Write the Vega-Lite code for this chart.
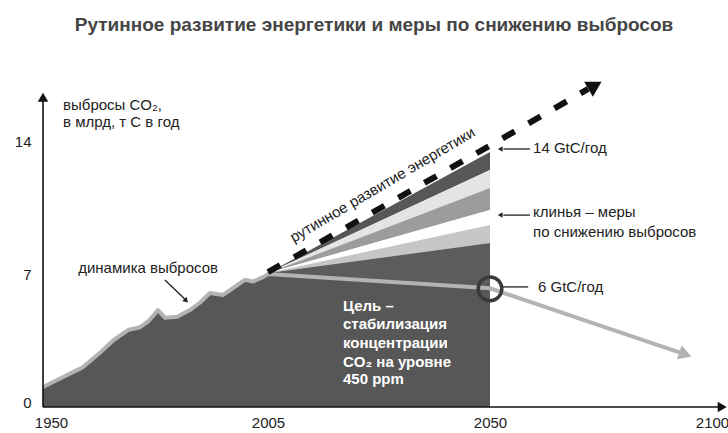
{
  "$schema": "https://vega.github.io/schema/vega-lite/v6.json",
  "width": 686,
  "height": 342,
  "autosize": {"type": "none"},
  "padding": {"left": 42, "top": 65, "right": 0, "bottom": 26},
  "background": "white",
  "title": {
    "text": "Рутинное развитие энергетики и меры по снижению выбросов",
    "font": "Liberation Sans",
    "fontSize": 19,
    "fontWeight": "bold",
    "color": "#454545",
    "anchor": "middle",
    "offset": 30,
    "dx": -11
  },
  "config": {
    "view": {"stroke": null},
    "axis": {
      "grid": false,
      "ticks": false,
      "domain": false,
      "labelFont": "Liberation Sans",
      "labelFontSize": 15,
      "labelColor": "#222222",
      "labelFlush": false,
      "title": null
    }
  },
  "datasets": {
    "path": [
      {"year": 1950, "value": 1.05},
      {"year": 1954.2, "value": 1.5},
      {"year": 1959.8, "value": 2.1},
      {"year": 1963.9, "value": 2.85},
      {"year": 1967.1, "value": 3.5},
      {"year": 1970.8, "value": 4.05},
      {"year": 1973.7, "value": 4.2},
      {"year": 1975.7, "value": 4.5},
      {"year": 1978.1, "value": 5.1},
      {"year": 1979.8, "value": 4.7},
      {"year": 1982.8, "value": 4.75},
      {"year": 1985.9, "value": 5.1},
      {"year": 1988.4, "value": 5.5},
      {"year": 1990.8, "value": 6.0},
      {"year": 1994, "value": 5.9},
      {"year": 1996.4, "value": 6.25},
      {"year": 1999.4, "value": 6.7},
      {"year": 2001.3, "value": 6.6},
      {"year": 2003.9, "value": 6.85},
      {"year": 2005, "value": 7.0},
      {"year": 2050, "value": 6.25},
      {"year": 2092.8, "value": 2.86}
    ],
    "wedges": [
      {"w": "a", "year": 2005, "value": 7.05, "lo": 7.05},
      {"w": "a", "year": 2050, "value": 13.42, "lo": 12.47},
      {"w": "b", "year": 2005, "value": 7.05, "lo": 7.05},
      {"w": "b", "year": 2050, "value": 12.47, "lo": 11.53},
      {"w": "c", "year": 2005, "value": 7.05, "lo": 7.05},
      {"w": "c", "year": 2050, "value": 11.53, "lo": 10.37},
      {"w": "d", "year": 2005, "value": 7.05, "lo": 7.05},
      {"w": "d", "year": 2050, "value": 10.37, "lo": 9.58},
      {"w": "e", "year": 2005, "value": 7.05, "lo": 7.05},
      {"w": "e", "year": 2050, "value": 9.58, "lo": 8.63},
      {"w": "f", "year": 2005, "value": 7.05, "lo": 7.0},
      {"w": "f", "year": 2050, "value": 8.63, "lo": 6.25}
    ],
    "bau": [
      {"year": 2005, "value": 7.1},
      {"year": 2050, "value": 13.76},
      {"year": 2072.1, "value": 16.74}
    ],
    "bauHead": [{"year": 2073.65, "value": 16.92}],
    "grayHead": [{"year": 2094.0, "value": 2.77}],
    "target": [{"year": 2050, "value": 6.22}],
    "pointers": [
      {"year": 2059.0, "year2": 2053.0, "value": 13.58, "value2": 13.58},
      {"year": 2059.0, "year2": 2053.0, "value": 10.1, "value2": 10.1},
      {"year": 2058.6, "year2": 2052.7, "value": 6.32, "value2": 6.32},
      {"year": 1979.8, "year2": 1984.6, "value": 6.68, "value2": 5.7}
    ],
    "leftHeads": [
      {"year": 2052.3, "value": 13.58},
      {"year": 2052.3, "value": 10.1}
    ],
    "diagHead": [{"year": 1985.0, "value": 5.6}],
    "axes": [
      {"year": 1950, "year2": 2102, "value": 0, "value2": 0},
      {"year": 1950, "year2": 1950, "value": 0, "value2": 16.2}
    ],
    "xHead": [{"year": 2102.3, "value": 0}],
    "yHead": [{"year": 1950, "value": 16.3}],
    "notes": [
      {"text": "выбросы CO₂,", "year": 1954.9, "value": 15.63},
      {"text": "в млрд, т С в год", "year": 1954.9, "value": 14.74},
      {"text": "динамика выбросов", "year": 1958.6, "value": 7.03},
      {"text": "14 GtC/год", "year": 2059.7, "value": 13.37},
      {"text": "клинья – меры", "year": 2059.7, "value": 10.0},
      {"text": "по снижению выбросов", "year": 2059.7, "value": 8.95},
      {"text": "6 GtC/год", "year": 2060.8, "value": 6.05}
    ],
    "goal": [
      {"text": "Цель –", "year": 2020.2, "value": 5.05},
      {"text": "стабилизация", "year": 2020.2, "value": 4.1},
      {"text": "концентрации", "year": 2020.2, "value": 3.1},
      {"text": "CO₂ на уровне", "year": 2020.2, "value": 2.1},
      {"text": "450 ppm", "year": 2020.2, "value": 1.2}
    ],
    "bauLabel": [{"text": "рутинное развитие энергетики", "year": 2028.7, "value": 11.47}]
  },
  "encoding": {
    "x": {
      "field": "year",
      "type": "quantitative",
      "scale": {"domain": [1950, 2005, 2050, 2100], "range": [1, 226, 448, 670], "nice": false, "zero": false},
      "axis": {
        "values": [1950, 2005, 2050, 2100],
        "format": "d",
        "labelPadding": 8,
        "labelOffset": {"condition": {"test": "datum.value === 1950", "value": 8}, "value": 0}
      }
    },
    "y": {
      "field": "value",
      "type": "quantitative",
      "scale": {"domain": [0, 18], "nice": false, "zero": true},
      "axis": {
        "values": [0, 7, 14],
        "labelPadding": 11,
        "labelBaseline": {"condition": {"test": "datum.value === 0", "value": "alphabetic"}, "value": "middle"}
      }
    }
  },
  "layer": [
    {
      "data": {"name": "path"},
      "transform": [{"filter": "datum.year <= 2050"}],
      "mark": {"type": "area", "color": "#575757"},
      "encoding": {}
    },
    {
      "data": {"name": "wedges"},
      "mark": {"type": "area"},
      "encoding": {
        "y2": {"field": "lo"},
        "color": {
          "field": "w",
          "type": "nominal",
          "scale": {"domain": ["a", "b", "c", "d", "e", "f"], "range": ["#575757", "#e4e4e4", "#9c9c9c", "#ffffff", "#c6c6c6", "#5c5c5c"]},
          "legend": null
        }
      }
    },
    {
      "data": {"name": "path"},
      "mark": {"type": "line", "color": "#b3b3b3", "strokeWidth": 4, "strokeJoin": "round"},
      "encoding": {}
    },
    {
      "data": {"name": "grayHead"},
      "mark": {"type": "point", "shape": "triangle-up", "filled": true, "color": "#b3b3b3", "opacity": 1, "size": 220, "angle": 108.5},
      "encoding": {}
    },
    {
      "data": {"name": "bau"},
      "mark": {"type": "line", "color": "#111111", "strokeWidth": 6, "strokeDash": [14, 16], "strokeCap": "butt"},
      "encoding": {}
    },
    {
      "data": {"name": "bauHead"},
      "mark": {"type": "point", "shape": "triangle-up", "filled": true, "color": "#111111", "opacity": 1, "size": 300, "angle": 60},
      "encoding": {}
    },
    {
      "data": {"name": "target"},
      "mark": {"type": "point", "shape": "circle", "filled": false, "color": "#3a3a3a", "opacity": 1, "size": 560, "strokeWidth": 3.5},
      "encoding": {}
    },
    {
      "data": {"name": "pointers"},
      "mark": {"type": "rule", "color": "#222222", "strokeWidth": 1.3},
      "encoding": {"x2": {"field": "year2"}, "y2": {"field": "value2"}}
    },
    {
      "data": {"name": "leftHeads"},
      "mark": {"type": "point", "shape": "triangle-left", "filled": true, "color": "#222222", "opacity": 1, "size": 30},
      "encoding": {}
    },
    {
      "data": {"name": "diagHead"},
      "mark": {"type": "point", "shape": "triangle-up", "filled": true, "color": "#222222", "opacity": 1, "size": 35, "angle": 135},
      "encoding": {}
    },
    {
      "data": {"name": "axes"},
      "mark": {"type": "rule", "color": "#111111", "strokeWidth": 1.6},
      "encoding": {"x2": {"field": "year2"}, "y2": {"field": "value2"}}
    },
    {
      "data": {"name": "xHead"},
      "mark": {"type": "point", "shape": "triangle-right", "filled": true, "color": "#111111", "opacity": 1, "size": 110},
      "encoding": {}
    },
    {
      "data": {"name": "yHead"},
      "mark": {"type": "point", "shape": "triangle-up", "filled": true, "color": "#111111", "opacity": 1, "size": 110},
      "encoding": {}
    },
    {
      "data": {"name": "notes"},
      "mark": {"type": "text", "align": "left", "baseline": "alphabetic", "font": "Liberation Sans", "fontSize": 15, "color": "#222222"},
      "encoding": {"text": {"field": "text"}}
    },
    {
      "data": {"name": "goal"},
      "mark": {"type": "text", "align": "left", "baseline": "alphabetic", "font": "Liberation Sans", "fontSize": 15, "fontWeight": "bold", "color": "#ffffff"},
      "encoding": {"text": {"field": "text"}}
    },
    {
      "data": {"name": "bauLabel"},
      "mark": {"type": "text", "align": "center", "baseline": "alphabetic", "font": "Liberation Sans", "fontSize": 15, "color": "#222222", "angle": -30.5},
      "encoding": {"text": {"field": "text"}}
    }
  ]
}
